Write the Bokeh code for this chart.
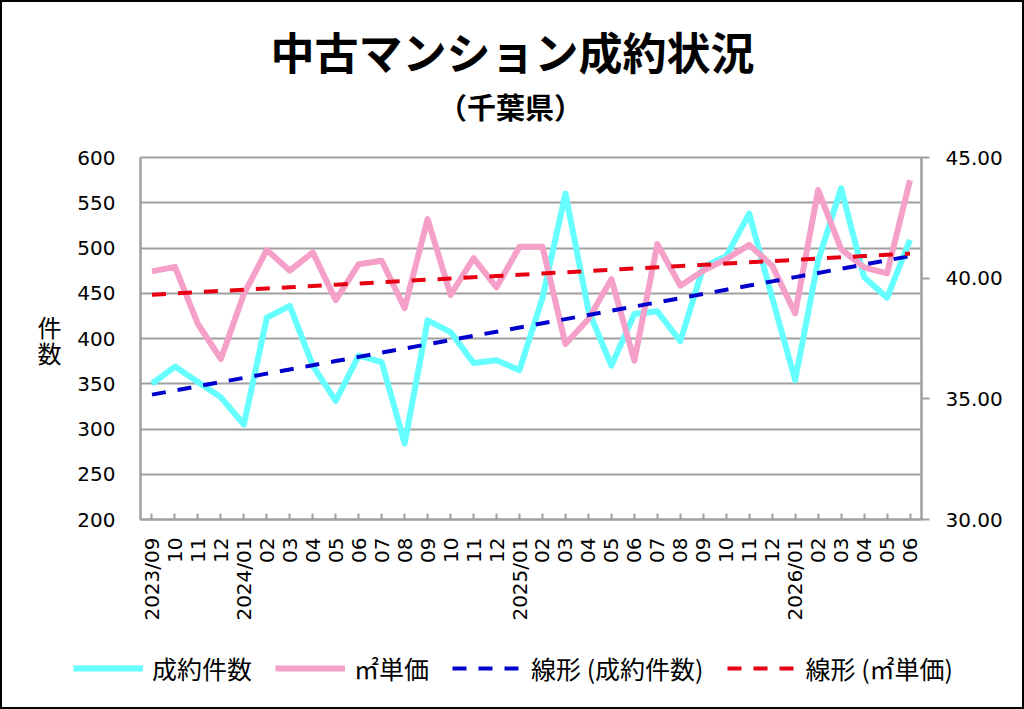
import math
import numpy as np
from bokeh.plotting import figure
from bokeh.layouts import column
from bokeh.models import (Range1d, LinearAxis, FixedTicker, PrintfTickFormatter,
                          Legend, LegendItem, Label)
from bokeh.embed import file_html
from bokeh.resources import INLINE

# ---- data ----
months = ["2023/09", "10", "11", "12",
          "2024/01", "02", "03", "04", "05", "06", "07", "08", "09", "10", "11", "12",
          "2025/01", "02", "03", "04", "05", "06", "07", "08", "09", "10", "11", "12",
          "2026/01", "02", "03", "04", "05", "06"]
counts = [350, 369, 352, 335, 305, 423, 436, 370, 331, 381, 374, 284,
          420, 407, 373, 376, 365, 445, 560, 431, 370, 427, 430, 397,
          479, 491, 538, 445, 354, 486, 566, 468, 445, 509]
price = [40.28, 40.47, 38.10, 36.65, 39.34, 41.17, 40.31, 41.07, 39.09, 40.58, 40.72, 38.76,
         42.45, 39.31, 40.83, 39.62, 41.30, 41.30, 37.27, 38.31, 39.96, 36.58, 41.41, 39.69,
         40.31, 40.79, 41.38, 40.52, 38.54, 43.65, 41.20, 40.45, 40.20, 44.06]
left_ticks = [200, 250, 300, 350, 400, 450, 500, 550, 600]
right_ticks = [30, 35, 40, 45]

title_text = "中古マンション成約状況"
subtitle_text = "（千葉県）"
y_label_chars = ["件", "数"]
names = ["成約件数", "㎡単価", "線形 (成約件数)", "線形 (㎡単価)"]

x = list(range(len(months)))
xa = np.array(x, dtype=float)
c1 = np.polyfit(xa, np.array(counts, dtype=float), 1)
c2 = np.polyfit(xa, np.array(price, dtype=float), 1)
trend_counts = list(np.polyval(c1, xa))
trend_price = list(np.polyval(c2, xa))

GRID = "#A0A0A0"
TICKFONT = "DejaVu Sans"
JP = "Noto Sans CJK JP"
C_CNT, C_PRC, C_TC, C_TP = "#66FFFF", "#F5A0C8", "#0000CC", "#E60012"

# layout (pixels)
W = 1024
TOP_H = 130          # title strip
MAIN_H = 497         # chart
LEG_H = 82           # legend strip
LEFT, PLOT_W, PLOT_H = 140, 781, 362
FRAME_TOP = 157


def no_align(f):
    try:
        f.frame_align = False
    except AttributeError:
        pass


def strip(h):
    f = figure(width=W, height=h, output_backend="svg", toolbar_location=None,
               x_range=Range1d(0, W), y_range=Range1d(0, h),
               x_axis_location=None, y_axis_location=None, min_border=0)
    f.outline_line_color = None
    f.background_fill_alpha = 0
    f.border_fill_alpha = 0
    for g in f.grid:
        g.visible = False
    no_align(f)
    return f


# ---- title strip ----
top = strip(TOP_H)
top.add_layout(Label(x=512, y=TOP_H - 50.5, text=title_text, text_align="center",
                     text_baseline="middle", text_font=JP, text_font_size="44px",
                     text_font_style="bold", text_color="black"))
top.add_layout(Label(x=510, y=TOP_H - 105, text=subtitle_text, text_align="center",
                     text_baseline="middle", text_font=JP, text_font_size="29px",
                     text_font_style="bold", text_color="black"))

# ---- main chart ----
mt = FRAME_TOP - TOP_H
p = figure(width=W, height=MAIN_H, output_backend="svg", toolbar_location=None,
           x_range=Range1d(-0.5, len(months) - 0.5),
           y_range=Range1d(left_ticks[0], left_ticks[-1]),
           min_border_left=LEFT, min_border_right=W - LEFT - PLOT_W,
           min_border_top=mt, min_border_bottom=MAIN_H - mt - PLOT_H)
no_align(p)
p.extra_y_ranges = {"price": Range1d(right_ticks[0], right_ticks[-1])}
p.background_fill_color = "white"
p.border_fill_alpha = 0
p.outline_line_color = GRID
p.outline_line_width = 2

p.xgrid.grid_line_color = None
p.ygrid.grid_line_color = GRID
p.ygrid.grid_line_width = 2

xax = p.xaxis[0]
xax.ticker = FixedTicker(ticks=x)
xax.major_label_overrides = {i: m for i, m in enumerate(months)}
xax.major_label_orientation = math.pi / 2
xax.major_label_text_font = TICKFONT
xax.major_label_text_font_size = "20px"
xax.major_label_text_color = "black"
xax.major_label_standoff = 18
xax.major_tick_in = 6
xax.major_tick_out = 0
xax.major_tick_line_color = GRID
xax.major_tick_line_width = 2
xax.minor_tick_line_color = None
xax.axis_line_color = GRID
xax.axis_line_width = 2

yax = p.yaxis[0]
yax.ticker = FixedTicker(ticks=left_ticks)
yax.major_label_text_font = TICKFONT
yax.major_label_text_font_size = "20px"
yax.major_label_text_color = "black"
yax.major_label_standoff = 25
yax.major_tick_in = 0
yax.major_tick_out = 0
yax.minor_tick_line_color = None
yax.axis_line_color = GRID
yax.axis_line_width = 2

# vertical axis title, written one character per line
label_pos = [413, 385]
lax = LinearAxis(ticker=FixedTicker(ticks=label_pos),
                 major_label_overrides={v: c for v, c in zip(label_pos, y_label_chars)})
lax.major_label_text_font = JP
lax.major_label_text_font_size = "24px"
lax.major_label_text_color = "black"
lax.major_label_standoff = 13
lax.major_tick_in = 0
lax.major_tick_out = 0
lax.minor_tick_line_color = None
lax.axis_line_color = None
p.add_layout(lax, "left")

rax = LinearAxis(y_range_name="price", ticker=FixedTicker(ticks=right_ticks),
                 formatter=PrintfTickFormatter(format="%.2f"))
rax.major_label_text_font = TICKFONT
rax.major_label_text_font_size = "20px"
rax.major_label_text_color = "black"
rax.major_label_standoff = 16
rax.major_tick_in = 0
rax.major_tick_out = 8
rax.major_tick_line_color = GRID
rax.major_tick_line_width = 2
rax.minor_tick_line_color = None
rax.axis_line_color = GRID
rax.axis_line_width = 2
p.add_layout(rax, "right")

styles = [dict(line_color=C_CNT, line_width=6, line_join="round"),
          dict(line_color=C_PRC, line_width=6, line_join="round"),
          dict(line_color=C_TC, line_width=4, line_dash="14 12"),
          dict(line_color=C_TP, line_width=4, line_dash="14 12")]
p.line(x, counts, **styles[0])
p.line(x, price, y_range_name="price", **styles[1])
p.line(x, trend_counts, **styles[2])
p.line(x, trend_price, y_range_name="price", **styles[3])

# ---- legend strip (its swatches come from renderers kept outside the visible range) ----
bot = strip(LEG_H)
bot.extra_y_ranges = {"off": Range1d(10000, 20000)}
series = [counts, price, trend_counts, trend_price]
rs = [bot.line(x, s, y_range_name="off", **st) for s, st in zip(series, styles)]
legend = Legend(items=[LegendItem(label=n, renderers=[r]) for n, r in zip(names, rs)],
                orientation="horizontal", location="left", margin=73,
                glyph_width=70, glyph_height=24, label_standoff=9, spacing=23,
                padding=0, border_line_color=None, background_fill_alpha=0,
                label_text_font=JP, label_text_font_size="25px", label_text_color="black")
bot.add_layout(legend)

layout = column(top, p, bot, spacing=0)
layout.styles = {"outline": "2px solid black", "outline-offset": "-2px"}

open("out.html", "w").write(file_html(layout, INLINE))
